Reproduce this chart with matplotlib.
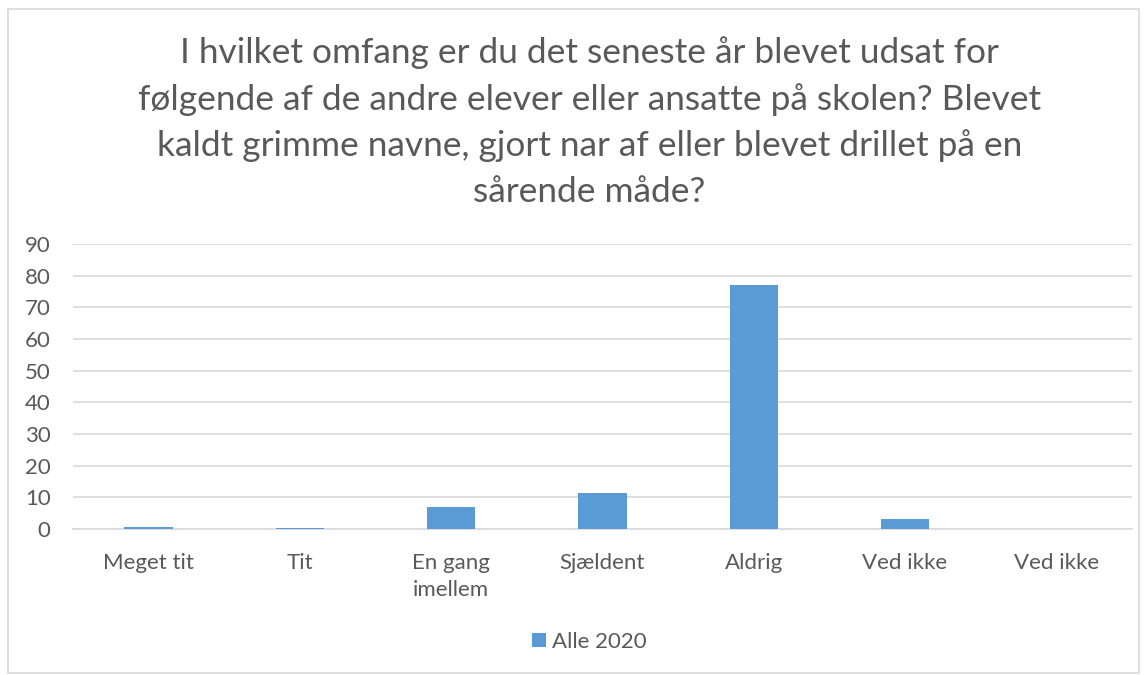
import matplotlib
matplotlib.use("Agg")
import matplotlib.pyplot as plt
from matplotlib.patches import Rectangle

categories = ["Meget tit", "Tit", "En gang\nimellem", "Sjældent", "Aldrig", "Ved ikke", "Ved ikke"]
values = [0.6, 0.2, 6.9, 11.3, 77.0, 3.3, 0.0]
series_name = "Alle 2020"
yticks = [0, 10, 20, 30, 40, 50, 60, 70, 80, 90]
title = ("I hvilket omfang er du det seneste år blevet udsat for\n"
         "følgende af de andre elever eller ansatte på skolen? Blevet\n"
         "kaldt grimme navne, gjort nar af eller blevet drillet på en\n"
         "sårende måde?")

plt.rcParams['font.family'] = ['Lato', 'DejaVu Sans']
txt = "#595959"
bar_color = "#5B9BD5"
grid_color = "#D9D9D9"

fig = plt.figure(figsize=(11.47, 6.75), dpi=100)
fig.patches.append(Rectangle((0.007, 0.003), 0.986, 0.984, transform=fig.transFigure,
                             fill=False, edgecolor=grid_color, linewidth=1.2))

ax = fig.add_axes([0.0636, 0.2163, 0.9233, 0.4222])
x = list(range(len(categories)))
ax.bar(x, values, width=0.32, color=bar_color, label=series_name, zorder=3)
ax.set_xlim(-0.5, len(categories) - 0.5)
ax.set_ylim(0, 90)
ax.set_yticks(yticks)
ax.set_xticks(x)
ax.set_xticklabels(categories, fontsize=16, color=txt, linespacing=1.45)
ax.tick_params(axis='y', labelsize=16, colors=txt, length=0, pad=16)
ax.tick_params(axis='x', length=0, pad=17)
ax.grid(axis='y', color=grid_color, linewidth=1.2, zorder=0)
for s in ax.spines.values():
    s.set_visible(False)
ax.spines['bottom'].set_visible(True)
ax.spines['bottom'].set_color(grid_color)
ax.spines['bottom'].set_linewidth(1.2)

fig.text(0.514, 0.946, title, ha='center', va='top', fontsize=25.4, color=txt, linespacing=1.51)

fig.legend(loc='center', bbox_to_anchor=(0.514, 0.049), frameon=False, fontsize=16,
           labelcolor=txt, handlelength=0.6, handleheight=0.6, handletextpad=0.3)

fig.savefig("out.png", dpi=100)
